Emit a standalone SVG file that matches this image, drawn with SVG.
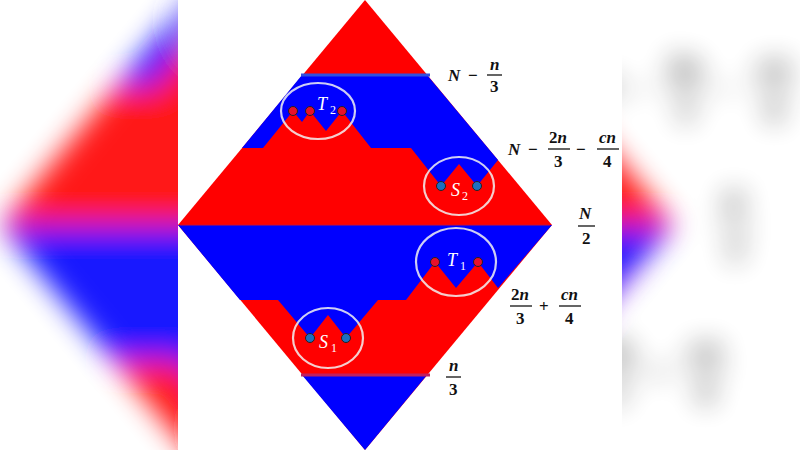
<svg xmlns="http://www.w3.org/2000/svg" xmlns:xlink="http://www.w3.org/1999/xlink" width="800" height="450" viewBox="0 0 800 450">
<defs>
<style>
.m{font-family:"Liberation Serif","DejaVu Serif",serif;font-weight:bold;font-style:italic;font-size:17px;fill:#111}
.d{font-family:"Liberation Serif","DejaVu Serif",serif;font-weight:bold;font-size:17px;fill:#111}
.bar{stroke:#111;stroke-width:1.3}
.ring{fill:none;stroke:#f2f2f2;stroke-width:2.2;opacity:.85}
.lab{font-family:"Liberation Serif","DejaVu Serif",serif;font-style:italic;fill:#fff;font-size:18px}
.sub{font-family:"Liberation Serif",serif;fill:#fff;font-size:12px}
.rd{fill:#e8102a;stroke:#222;stroke-width:1}
.bd{fill:#1d6fc0;stroke:#222;stroke-width:1}
</style>
<filter id="bl" x="-20%" y="-20%" width="140%" height="140%"><feGaussianBlur stdDeviation="14"/></filter>
<clipPath id="sides"><rect x="0" y="0" width="178" height="450"/><rect x="622" y="0" width="178" height="450"/></clipPath>
</defs>
<rect width="800" height="450" fill="#fff"/>
<g id="content">
<g id="diamond">
<polygon points="365,0 552,225 365,450 178,225" fill="#ff0000"/>
<polygon points="302,75 427,75 498,160 477,186 459,164 441,186 411,148 371,148 342,111 326,131 310,111 302,122 293,111 263,148 242,148" fill="#0000ff"/>
<polygon points="178,225 552,225 498,288 478,262 456,288 435,262 406,300 378,300 346,338 328,315 310,338 278,300 240,300" fill="#0000ff"/>
<polygon points="302,375 427,375 365,450" fill="#0000ff"/>
<line x1="301" y1="75" x2="430" y2="75" stroke="#3050e0" stroke-width="3"/>
<line x1="301" y1="375" x2="430" y2="375" stroke="#c02060" stroke-width="3"/>
<line x1="180" y1="225" x2="550" y2="225" stroke="#d01030" stroke-width="1"/>
</g>
<g id="T2"><ellipse class="ring" cx="318" cy="111" rx="37" ry="28"/><circle class="rd" cx="293" cy="111" r="4.5"/><circle class="rd" cx="310" cy="111" r="4.5"/><circle class="rd" cx="342" cy="111" r="4.5"/><text class="lab" x="317" y="110">T</text><text class="sub" x="330" y="114">2</text></g>
<g id="S2"><ellipse class="ring" cx="459" cy="186" rx="35" ry="29"/><circle class="bd" cx="441" cy="186" r="4.5"/><circle class="bd" cx="477" cy="186" r="4.5"/><text class="lab" x="451" y="196">S</text><text class="sub" x="462" y="200">2</text></g>
<g id="T1"><ellipse class="ring" cx="456" cy="262" rx="40" ry="34"/><circle class="rd" cx="435" cy="262" r="4.5"/><circle class="rd" cx="478" cy="262" r="4.5"/><text class="lab" x="447" y="266">T</text><text class="sub" x="460" y="270">1</text></g>
<g id="S1"><ellipse class="ring" cx="328" cy="338" rx="35" ry="30"/><circle class="bd" cx="310" cy="338" r="4.5"/><circle class="bd" cx="346" cy="338" r="4.5"/><text class="lab" x="319" y="348">S</text><text class="sub" x="331" y="352">1</text></g>
<g id="labels">
<text class="m" x="448" y="81">N</text><text class="d" x="468" y="81">−</text><text class="m" x="490" y="70" font-size="16">n</text><line class="bar" x1="487" y1="75" x2="502" y2="75"/><text class="d" x="490" y="92">3</text>
<text class="m" x="508" y="155">N</text><text class="d" x="528" y="155">−</text><text class="d" x="549" y="143">2<tspan font-style="italic">n</tspan></text><line class="bar" x1="548" y1="149" x2="570" y2="149"/><text class="d" x="554" y="167">3</text><text class="d" x="576" y="155">−</text><text class="m" x="599" y="143">cn</text><line class="bar" x1="597" y1="149" x2="619" y2="149"/><text class="d" x="603" y="167">4</text>
<text class="m" x="579" y="219">N</text><line class="bar" x1="578" y1="226" x2="595" y2="226"/><text class="d" x="582" y="244">2</text>
<text class="d" x="511" y="300">2<tspan font-style="italic">n</tspan></text><line class="bar" x1="510" y1="306" x2="532" y2="306"/><text class="d" x="516" y="324">3</text><text class="d" x="539" y="312">+</text><text class="m" x="561" y="300">cn</text><line class="bar" x1="559" y1="306" x2="581" y2="306"/><text class="d" x="565" y="324">4</text>
<text class="m" x="449" y="371" font-size="16">n</text><line class="bar" x1="446" y1="377" x2="461" y2="377"/><text class="d" x="449" y="395">3</text>
</g>
</g>
<g clip-path="url(#sides)"><g filter="url(#bl)" opacity="0.9"><use xlink:href="#content" transform="translate(400 225) scale(1.8) translate(-400 -225)"/></g></g>
</svg>
